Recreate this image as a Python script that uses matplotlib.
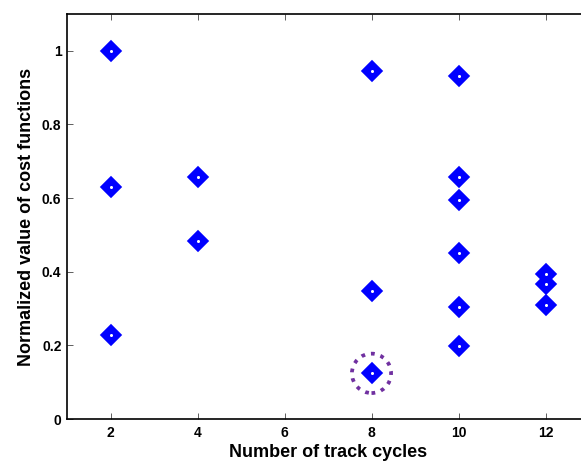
import matplotlib
matplotlib.use("Agg")
import matplotlib.pyplot as plt
from matplotlib.patches import Ellipse

plt.rcParams['font.family'] = ['Liberation Sans', 'DejaVu Sans']
plt.rcParams['font.weight'] = 'bold'

cycles = [2, 2, 2, 4, 4, 8, 8, 8, 10, 10, 10, 10, 10, 10, 12, 12, 12]
cost = [1.0, 0.630, 0.228, 0.657, 0.483, 0.944, 0.348, 0.124,
        0.931, 0.657, 0.596, 0.452, 0.303, 0.198, 0.395, 0.366, 0.309]
best_x, best_y = 8, 0.124
xticks = [2, 4, 6, 8, 10, 12]
yticks = [0, 0.2, 0.4, 0.6, 0.8, 1.0]
ytick_labels = ['0', '0.2', '0.4', '0.6', '0.8', '1']

fig = plt.figure(figsize=(5.81, 4.65), dpi=100)
ax = fig.add_axes([67/581, 46/465, 522/581, 405/465])

ax.plot(cycles, cost, linestyle='none', marker='D', ms=10.5, mfc='#0000FF',
        mec='#0000FF', mew=1.2)
ax.plot(cycles, cost, linestyle='none', marker='o', ms=2.2, mfc='white',
        mec='white', mew=0)

circ = Ellipse((best_x, best_y), width=0.9, height=0.107, fill=False,
               edgecolor='#7030A0', linewidth=2.7, linestyle=(0, (1, 1.6)))
ax.add_patch(circ)

ax.set_xlim(1, 13)
ax.set_ylim(0, 1.1)
ax.set_xticks(xticks)
ax.set_xticklabels([str(t) for t in xticks])
ax.set_yticks(yticks)
ax.set_yticklabels(ytick_labels)
ax.tick_params(direction='in', length=4, width=0.6, color='#444444',
               labelsize=10, top=True, right=True)
ax.tick_params(axis='x', pad=5)
ax.tick_params(axis='y', pad=4)
for s in ax.spines.values():
    s.set_linewidth(1.2)

ax.set_xlabel('Number of track cycles', fontsize=13, fontweight='bold', labelpad=3)
ax.set_ylabel('Normalized value of cost functions', fontsize=13, fontweight='bold', labelpad=5)

fig.savefig('out.png', dpi=100)
